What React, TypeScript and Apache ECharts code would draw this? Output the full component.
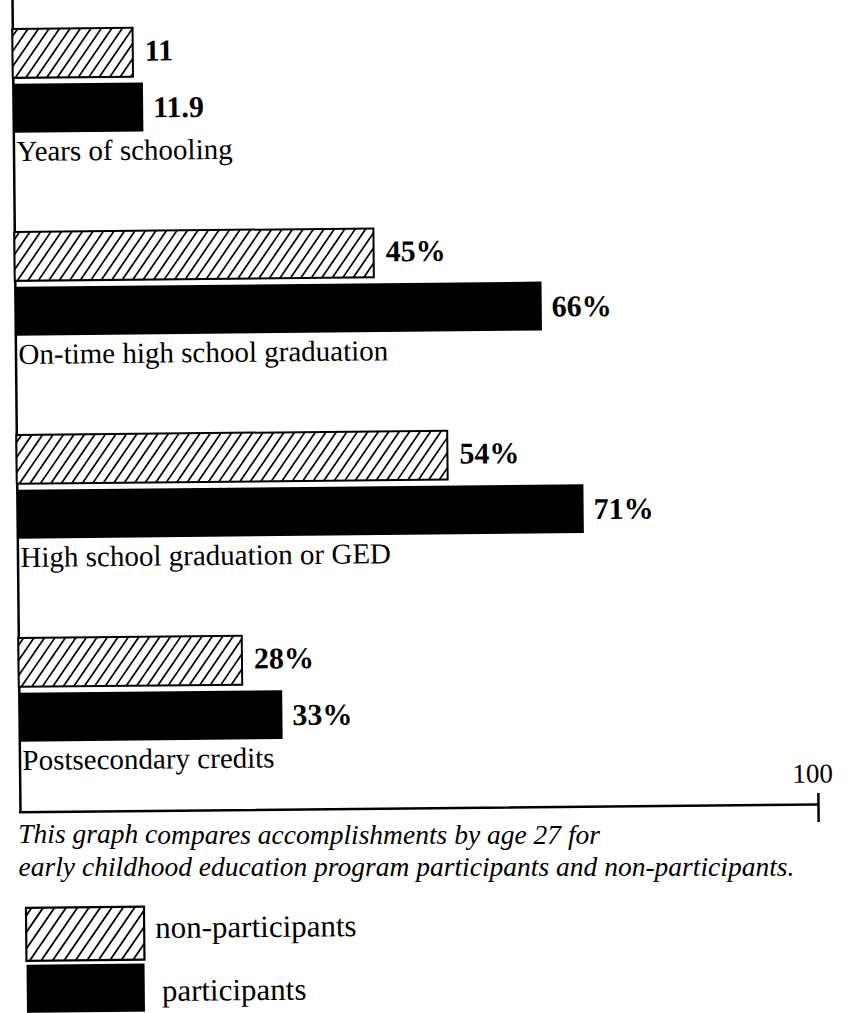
import React, { useEffect, useRef } from 'react';
import * as echarts from 'echarts';

// ---- data ----
const categories = [
  'Years of schooling',
  'On-time high school graduation',
  'High school graduation or GED',
  'Postsecondary credits',
];
const nonParticipants = [11, 45, 54, 28];
const participants = [11.9, 66, 71, 33];
const valueUnits = ['', '%', '%', '%'];
const percentTicks = [100];
const yearsAxisMax = 73;
const legendNames = ['non-participants', 'participants'];
const captionLines = [
  'This graph compares accomplishments by age 27 for',
  'early childhood education program participants and non-participants.',
];

const SERIF = '"Liberation Serif", "Times New Roman", serif';
const SKEW_DEG = 0.565;
const SKEW_RAD = (SKEW_DEG * Math.PI) / 180;

function hatchLines(x0: number, y0: number, w: number, h: number, spacing: number, slope: number, lw: number) {
  const out: any[] = [];
  const yb = y0 + h;
  for (let c = x0 - slope * h + spacing * 0.5; c < x0 + w; c += spacing) {
    const uMin = Math.max(0, (x0 - c) / slope);
    const uMax = Math.min(h, (x0 + w - c) / slope);
    if (uMax - uMin < 0.5) continue;
    out.push({
      type: 'line',
      shape: { x1: c + slope * uMin, y1: yb - uMin, x2: c + slope * uMax, y2: yb - uMax },
      style: { stroke: '#000', lineWidth: lw },
    });
  }
  return out;
}

function textStyle(text: string, font: string, align = 'left') {
  return {
    text,
    font,
    fill: '#000',
    align,
    verticalAlign: 'middle',
    textAlign: align,
    textVerticalAlign: 'middle',
  };
}

const renderGroup = (_params: any, api: any) => {
  const non = api.value(0);
  const part = api.value(1);
  const cat = api.value(2);
  const origin = api.coord([0, cat]);
  const bandH = api.size([0, 1])[1];
  const k = bandH / 205.6;
  const top = origin[1] - bandH / 2;
  const x0 = origin[0];
  const xNon = api.coord([non, cat])[0];
  const xPart = api.coord([part, cat])[0];
  const barH = 49.5 * k;
  const hY = top + 29.5 * k;
  const bY = top + 85 * k;
  const unit = valueUnits[cat];
  const children: any[] = [];
  children.push({
    type: 'rect',
    shape: { x: x0, y: hY, width: xNon - x0, height: barH },
    style: { fill: '#fff' },
  });
  children.push(...hatchLines(x0, hY, xNon - x0, barH, 10.5, 0.7, 1.7));
  children.push({
    type: 'rect',
    shape: { x: x0, y: hY, width: xNon - x0, height: barH },
    style: { fill: 'none', stroke: '#000', lineWidth: 2 },
  });
  children.push({
    type: 'rect',
    shape: { x: x0, y: bY, width: xPart - x0, height: barH },
    style: { fill: '#000' },
  });
  children.push({
    type: 'text',
    x: xNon + 12,
    y: hY + barH / 2 - 2,
    style: textStyle(`${non}${unit}`, `bold 30px ${SERIF}`),
  });
  children.push({
    type: 'text',
    x: xPart + 10,
    y: bY + barH / 2,
    style: textStyle(`${part}${unit}`, `bold 30px ${SERIF}`),
  });
  children.push({
    type: 'text',
    x: x0 + 3,
    y: top + 153 * k,
    style: textStyle(categories[cat], `29px ${SERIF}`),
  });
  return { type: 'group', children };
};

const axisLineStyle = { color: '#000', width: 2.5 };
const captionHalfWidths = [292, 389];

const option: any = {
  animation: false,
  backgroundColor: '#fff',
  grid: { left: 12, right: 42, top: -10.4, bottom: 201, containLabel: false },
  xAxis: [
    {
      type: 'value',
      min: 0,
      max: 100,
      position: 'bottom',
      axisLine: { show: true, lineStyle: axisLineStyle },
      axisTick: { show: true, inside: false, length: 18, customValues: percentTicks, lineStyle: axisLineStyle },
      axisLabel: {
        show: true,
        inside: true,
        margin: 17,
        customValues: percentTicks,
        color: '#000',
        fontFamily: SERIF,
        fontSize: 27,
        padding: [0, 10, 0, 0],
      },
      splitLine: { show: false },
    },
    { type: 'value', min: 0, max: yearsAxisMax, show: false },
    {
      type: 'value',
      min: 0,
      max: 100,
      position: 'bottom',
      axisLine: { show: false },
      axisTick: { show: true, inside: true, length: 11, customValues: percentTicks, lineStyle: axisLineStyle },
      axisLabel: { show: false },
      splitLine: { show: false },
    },
  ],
  yAxis: {
    type: 'category',
    data: categories,
    inverse: true,
    axisLine: { show: true, onZero: false, lineStyle: axisLineStyle },
    axisTick: { show: false },
    axisLabel: { show: false },
    splitLine: { show: false },
  },
  series: [
    {
      type: 'custom',
      name: 'years',
      xAxisIndex: 1,
      yAxisIndex: 0,
      renderItem: renderGroup,
      encode: { x: [0, 1], y: 2 },
      data: [[nonParticipants[0], participants[0], 0]],
    },
    {
      type: 'custom',
      name: 'percent',
      xAxisIndex: 0,
      yAxisIndex: 0,
      renderItem: renderGroup,
      encode: { x: [0, 1], y: 2 },
      data: categories.slice(1).map((_, j) => [nonParticipants[j + 1], participants[j + 1], j + 1]),
    },
  ],
  graphic: [
    ...captionLines.map((t, i) => ({
      type: 'text',
      x: 10,
      y: 837 + 33 * i,
      originX: captionHalfWidths[i],
      originY: 0,
      rotation: -SKEW_RAD,
      style: textStyle(t, `italic 27.5px ${SERIF}`),
    })),
    { type: 'rect', shape: { x: 17, y: 908, width: 118, height: 53 }, style: { fill: '#fff' } },
    ...hatchLines(17, 908, 118, 53, 11.5, 0.7, 1.8),
    { type: 'rect', shape: { x: 17, y: 908, width: 118, height: 53 }, style: { fill: 'none', stroke: '#000', lineWidth: 2.2 } },
    { type: 'rect', shape: { x: 17, y: 965, width: 118, height: 52 }, style: { fill: '#000' } },
    { type: 'text', x: 146, y: 929, style: textStyle(legendNames[0], `31px ${SERIF}`) },
    { type: 'text', x: 152, y: 992, style: textStyle(legendNames[1], `31px ${SERIF}`) },
  ],
};

export default function App() {
  const ref = useRef<HTMLDivElement>(null);
  useEffect(() => {
    if (!ref.current) return;
    const chart = echarts.init(ref.current, null, { renderer: 'svg' });
    chart.setOption(option);
    return () => chart.dispose();
  }, []);
  return (
    <div
      style={{
        position: 'absolute',
        left: 0,
        top: 0,
        width: 852,
        height: 1013,
        overflow: 'hidden',
        background: '#fff',
      }}
    >
      <div
        ref={ref}
        style={{ width: 852, height: 1013, transform: `rotate(-${SKEW_DEG}deg)`, transformOrigin: '0 0' }}
      />
    </div>
  );
}
